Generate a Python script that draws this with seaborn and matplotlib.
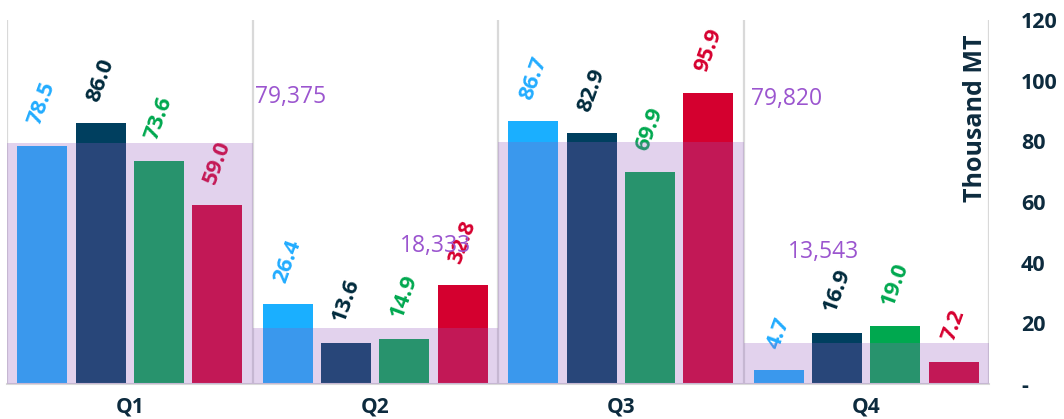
import matplotlib
matplotlib.use("Agg")
import matplotlib.pyplot as plt
import seaborn as sns
import pandas as pd

quarters = ["Q1", "Q2", "Q3", "Q4"]
series = ["Series A", "Series B", "Series C", "Series D"]
series_a = [78.5, 26.4, 86.7, 4.7]
series_b = [86.0, 13.6, 82.9, 16.9]
series_c = [73.6, 14.9, 69.9, 19.0]
series_d = [59.0, 32.8, 95.9, 7.2]
band_values = [79.375, 18.333, 79.820, 13.543]
band_labels = ["79,375", "18,333", "79,820", "13,543"]
y_ticks = [0, 20, 40, 60, 80, 100, 120]
y_tick_labels = ["-", "20", "40", "60", "80", "100", "120"]

colors = ["#1AAFFF", "#003F5F", "#00A84F", "#D4002F"]
label_colors = ["#22ACFF", "#002A3C", "#00A84F", "#D6002F"]
band_color = "#945CC0"
band_text_color = "#9B55CF"
dark = "#0D2B3E"

rows = []
for s, vals in zip(series, [series_a, series_b, series_c, series_d]):
    for q, v in zip(quarters, vals):
        rows.append({"Quarter": q, "Series": s, "Value": v})
df = pd.DataFrame(rows)

sns.set_theme(style="white")
plt.rcParams["font.family"] = ["Open Sans", "DejaVu Sans"]

fig = plt.figure(figsize=(10.64, 4.19), dpi=100)
ax = fig.add_axes([7 / 1064, 1 - 384 / 419, (989 - 7) / 1064, (384 - 20) / 419])

sns.barplot(data=df, x="Quarter", y="Value", hue="Series", order=quarters,
            hue_order=series, palette=colors, width=0.95, gap=0.14,
            saturation=1, legend=False, ax=ax, linewidth=0, zorder=2)

for cont, c in zip(ax.containers, label_colors):
    ax.bar_label(cont, fmt="%.1f", rotation=70, padding=13, color=c,
                 fontsize=16, fontweight="bold")

# translucent band per quarter
ax.bar(range(len(quarters)), band_values, width=1.0, color=band_color,
       alpha=0.27, linewidth=0, zorder=3)

band_pos = [(0.51, 94.5, "left"), (1.39, 45.5, "right"), (2.53, 94, "left"), (2.97, 43.5, "right")]
for (x, y, ha), lab in zip(band_pos, band_labels):
    ax.text(x, y, lab, color=band_text_color, fontsize=16.5, ha=ha, va="center", zorder=5)

for b in [-0.5, 0.5, 1.5, 2.5, 3.5]:
    ax.axvline(b, color="#D9D9D9", lw=1.6, zorder=1)

ax.set_xlim(-0.5, 3.5)
ax.set_ylim(0, 120)
for s in ["top", "left", "right"]:
    ax.spines[s].set_visible(False)
ax.spines["bottom"].set_color("#D9D9D9")
ax.spines["bottom"].set_linewidth(1.5)

ax.yaxis.tick_right()
ax.set_yticks(y_ticks)
ax.set_yticklabels(y_tick_labels)
ax.tick_params(axis="y", length=0, pad=23, labelsize=15.5, labelcolor=dark)
for t in ax.get_yticklabels():
    t.set_fontweight("bold")
    t.set_horizontalalignment("left")
ax.tick_params(axis="x", length=0, pad=9, labelsize=15, labelcolor=dark)
for t in ax.get_xticklabels():
    t.set_fontweight("bold")
ax.set_xlabel("")
ax.set_ylabel("")
ax.text(0.986, 0.73, "Thousand MT", transform=ax.transAxes, rotation=90,
        ha="center", va="center", fontsize=18, fontweight="bold", color=dark)

fig.savefig("out.png", dpi=100)
